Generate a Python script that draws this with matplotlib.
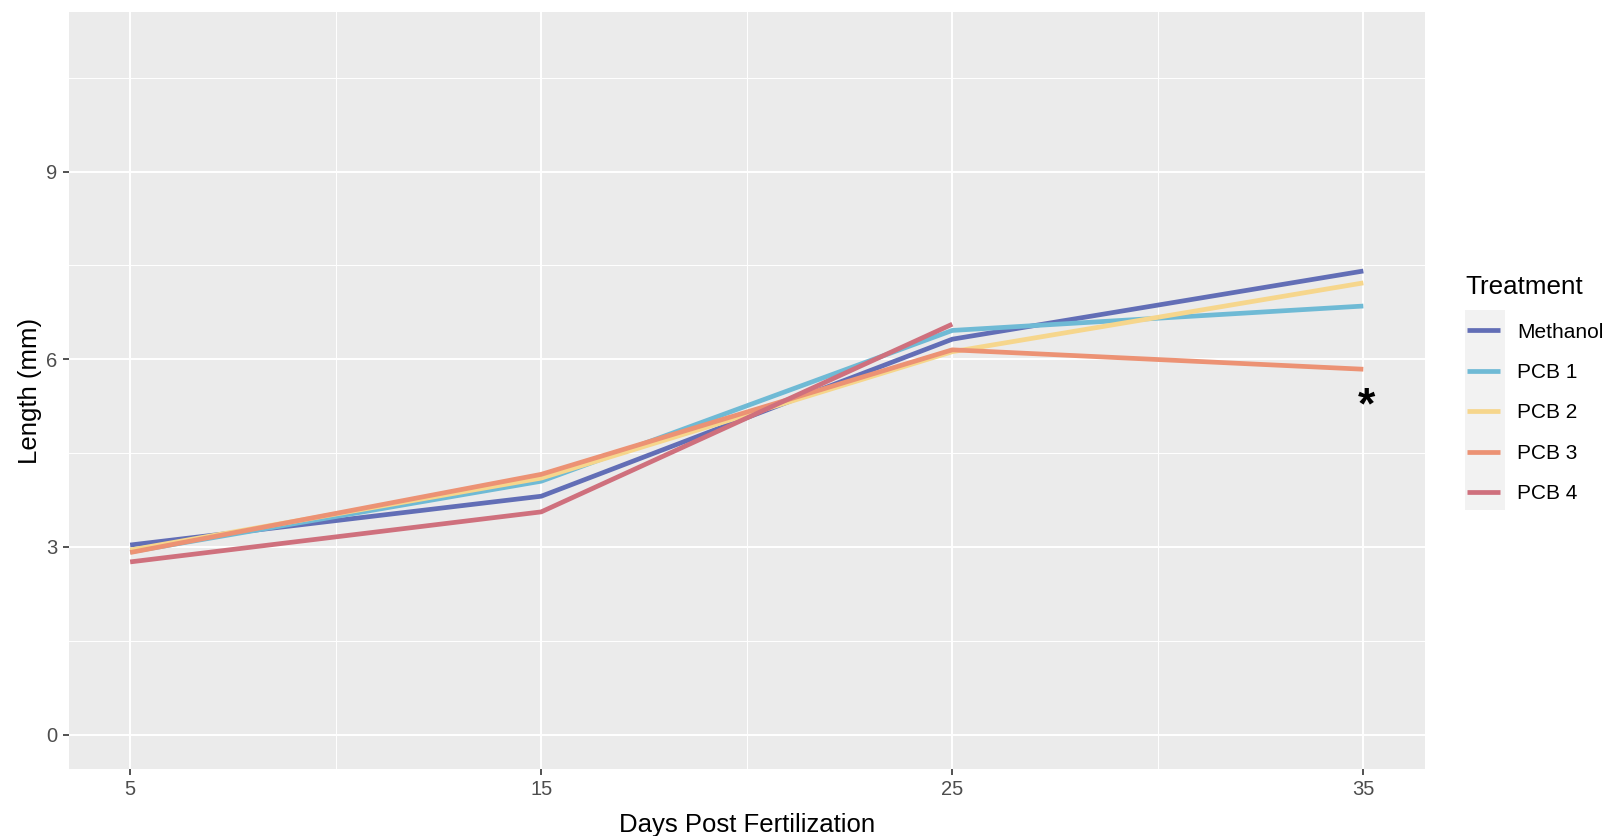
import matplotlib
matplotlib.use("Agg")
import matplotlib.pyplot as plt
from matplotlib.patches import Rectangle

plt.rcParams['font.family'] = ['Liberation Sans', 'DejaVu Sans']

# ---- data ----
days = [5, 15, 25, 35]
treatments = ["Methanol", "PCB 1", "PCB 2", "PCB 3", "PCB 4"]
methanol = [3.03, 3.81, 6.32, 7.41]
pcb1 = [2.92, 4.05, 6.46, 6.85]
pcb2 = [2.95, 4.10, 6.12, 7.22]
pcb3 = [2.91, 4.16, 6.15, 5.84]
pcb4_days = [5, 15, 25]
pcb4 = [2.76, 3.56, 6.56]
colors = ["#626EB6", "#6FBAD5", "#F6D68C", "#EC9274", "#CF707D"]
x_ticks = [5, 15, 25, 35]
y_ticks = [0, 3, 6, 9]

fig = plt.figure(figsize=(16.10, 8.36), dpi=100)
ax = fig.add_axes([68.5 / 1610, 1 - 769 / 836, (1425 - 68.5) / 1610, (769 - 12) / 836])
ax.set_facecolor("#EBEBEB")
for s in ax.spines.values():
    s.set_visible(False)

series = [(days, methanol), (days, pcb1), (days, pcb2), (days, pcb3), (pcb4_days, pcb4)]
for (xs, ys), name, c in zip(series, treatments, colors):
    ax.plot(xs, ys, color=c, lw=3.4, label=name, solid_capstyle='butt', zorder=3)

ax.set_xlim(3.5, 36.5)
ax.set_ylim(-0.55, 11.55)
ax.set_xticks(x_ticks)
ax.set_yticks(y_ticks)
ax.set_xticks([10, 20, 30], minor=True)
ax.set_yticks([1.5, 4.5, 7.5, 10.5], minor=True)
ax.grid(which='major', color='white', lw=1.4, zorder=0)
ax.grid(which='minor', color='white', lw=0.7, zorder=0)
ax.set_axisbelow(True)
ax.tick_params(which='major', length=4, width=1.2, color='#333333', labelcolor='#4D4D4D',
               labelsize=14.5, pad=4)
ax.tick_params(which='minor', length=0)

ax.set_xlabel("Days Post Fertilization", fontsize=18.5, color='black', labelpad=10)
ax.set_ylabel("Length (mm)", fontsize=18.5, color='black', labelpad=3)

ax.text(35.07, 5.23, "*", fontsize=32, fontweight='bold', ha='center', va='center', zorder=4)

# legend key background
fig.patches.append(Rectangle((1465 / 1610, 1 - 510 / 836), 40 / 1610, 200 / 836,
                             transform=fig.transFigure, facecolor='#F2F2F2',
                             edgecolor='none', zorder=0))
fig.text(1465 / 1610, 1 - 287.5 / 836, "Treatment", fontsize=18.7, color='black',
         ha='left', va='center')
leg = fig.legend(loc='upper left', bbox_to_anchor=(1467 / 1610, 1 - 322.5 / 836),
                 frameon=False, fontsize=15, borderpad=0, borderaxespad=0,
                 handlelength=1.6, handletextpad=0.8, labelspacing=1.03)
for h in leg.get_lines():
    h.set_linewidth(3.4)

fig.savefig("out.png", dpi=100)
